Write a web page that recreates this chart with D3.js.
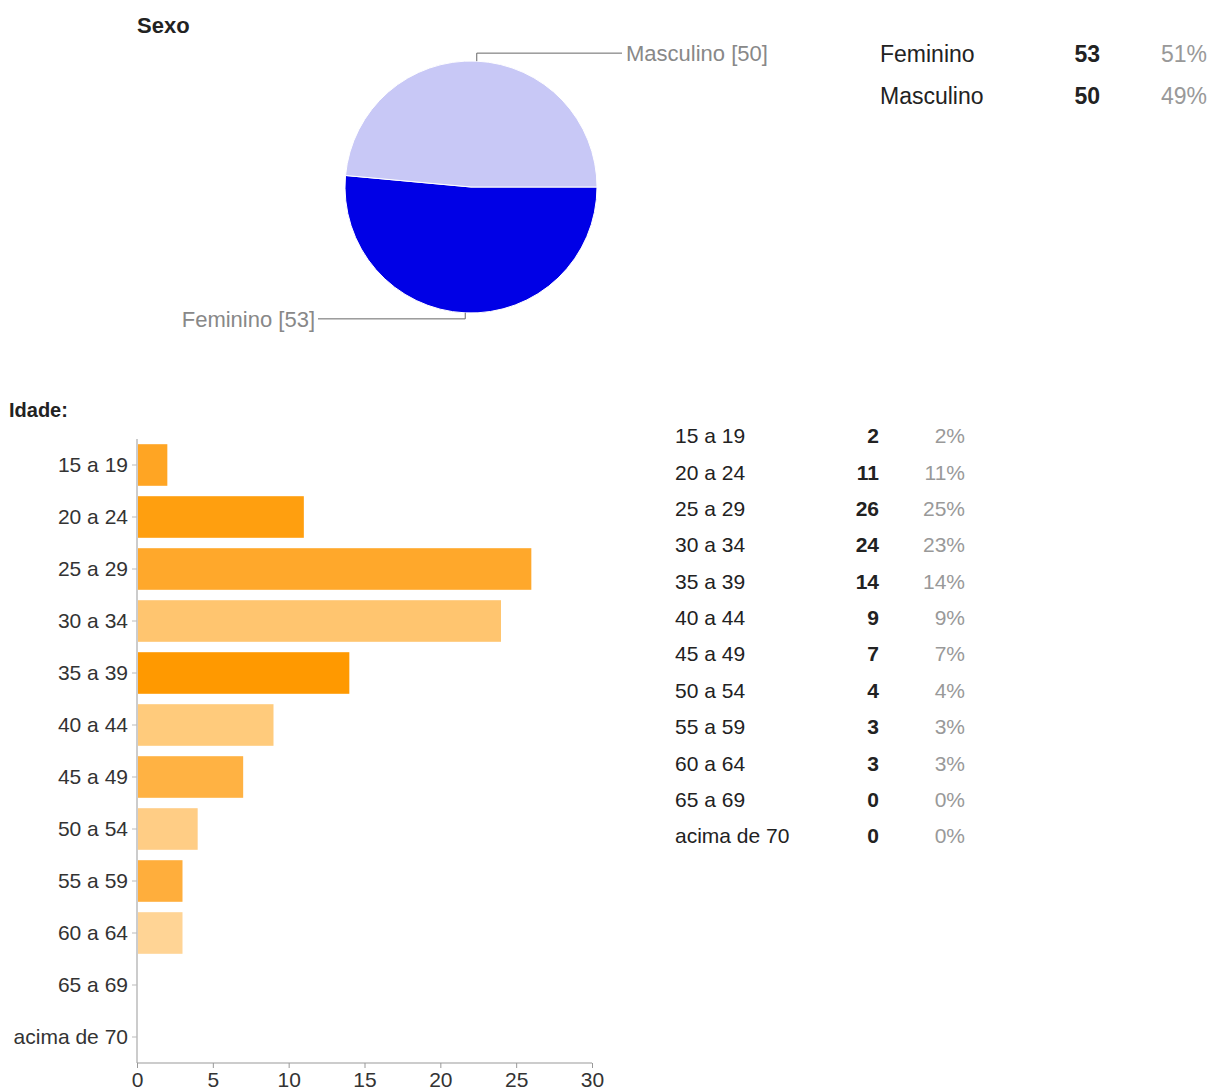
<!DOCTYPE html>
<html>
<head>
<meta charset="utf-8">
<script src="https://cdn.jsdelivr.net/npm/d3@7"></script>
<style>
  html, body { margin: 0; padding: 0; background: #fff; }
  svg { display: block; font-family: "Liberation Sans", Arial, sans-serif; }
</style>
</head>
<body>
<svg id="chart" width="1226" height="1091"></svg>
<script>
// Sexo
const sexLabels = ["Feminino", "Masculino"];
const sexCounts = [53, 50];
const sexPercents = ["51%", "49%"];
const sexColors = ["#0000e6", "#c8c8f6"];

// Idade
const ageLabels = ["15 a 19", "20 a 24", "25 a 29", "30 a 34", "35 a 39", "40 a 44",
                   "45 a 49", "50 a 54", "55 a 59", "60 a 64", "65 a 69", "acima de 70"];
const ageCounts = [2, 11, 26, 24, 14, 9, 7, 4, 3, 3, 0, 0];
const agePercents = ["2%", "11%", "25%", "23%", "14%", "9%", "7%", "4%", "3%", "3%", "0%", "0%"];
const ageColors = ["#ffa523", "#ff9f0f", "#ffa82b", "#ffc56f", "#ff9900", "#ffcb7c",
                   "#ffb243", "#ffcd85", "#ffae3c", "#ffd495", "#ffd495", "#ffd495"];
const xTicks = [0, 5, 10, 15, 20, 25, 30];

const svg = d3.select("#chart");
const FONT = "'Liberation Sans', Arial, sans-serif";

// ---------- Sexo: pie ----------
svg.append("text").attr("x", 137).attr("y", 25).attr("dy", "0.35em")
  .attr("font-size", 22).attr("font-weight", "bold").attr("fill", "#222").text("Sexo");

const cx = 471, cy = 187, r = 126;
const sexData = sexLabels.map((l, i) => ({ label: l, value: sexCounts[i], color: sexColors[i] }));
const pie = d3.pie().value(d => d.value).sort(null)
  .startAngle(Math.PI / 2).endAngle(Math.PI / 2 + 2 * Math.PI);
const arcs = pie(sexData);
const arc = d3.arc().innerRadius(0).outerRadius(r);

const pieG = svg.append("g").attr("transform", `translate(${cx},${cy})`);
pieG.selectAll("path").data(arcs).join("path")
  .attr("d", arc).attr("fill", d => d.data.color)
  .attr("stroke", "#fff").attr("stroke-width", 1);

// leader lines from slice midpoints
arcs.forEach(a => {
  const mid = (a.startAngle + a.endAngle) / 2;
  const px = r * Math.sin(mid), py = -r * Math.cos(mid);
  const up = py < 0;
  const ey = up ? py - 8 : py + 6;
  const ex = up ? 151 : -153;
  pieG.append("path")
    .attr("d", `M${px},${py}V${ey}H${ex}`)
    .attr("fill", "none").attr("stroke", "#666").attr("stroke-width", 1);
  pieG.append("text")
    .attr("x", up ? ex + 4 : ex - 3).attr("y", ey)
    .attr("dy", "0.35em").attr("text-anchor", up ? "start" : "end")
    .attr("font-size", 22).attr("fill", "#888")
    .text(`${a.data.label} [${a.data.value}]`);
});

// summary table
const sexTable = svg.append("g");
sexLabels.forEach((l, i) => {
  const y = 54 + i * 42;
  sexTable.append("text").attr("x", 880).attr("y", y).attr("dy", "0.35em")
    .attr("font-size", 23).attr("fill", "#222").text(l);
  sexTable.append("text").attr("x", 1100).attr("y", y).attr("dy", "0.35em")
    .attr("text-anchor", "end").attr("font-size", 23).attr("font-weight", "bold")
    .attr("fill", "#222").text(sexCounts[i]);
  sexTable.append("text").attr("x", 1207).attr("y", y).attr("dy", "0.35em")
    .attr("text-anchor", "end").attr("font-size", 23).attr("fill", "#999").text(sexPercents[i]);
});

// ---------- Idade: horizontal bars ----------
svg.append("text").attr("x", 9).attr("y", 410).attr("dy", "0.35em")
  .attr("font-size", 20).attr("font-weight", "bold").attr("fill", "#222").text("Idade:");

const x = d3.scaleLinear().domain([0, 30]).range([137, 592]);
const y = d3.scaleBand().domain(ageLabels).range([439, 1063])
  .paddingInner(0.2).paddingOuter(0.1);

svg.append("g").selectAll("rect").data(ageLabels).join("rect")
  .attr("x", x(0) + 1)
  .attr("y", d => y(d))
  .attr("width", (d, i) => Math.max(0, x(ageCounts[i]) - x(0) - 1))
  .attr("height", y.bandwidth())
  .attr("fill", (d, i) => ageColors[i]);

const yAxis = svg.append("g").attr("transform", `translate(${x(0)},0)`)
  .call(d3.axisLeft(y).tickSize(5).tickPadding(4));
yAxis.select(".domain").attr("d", `M0,439V1063`).attr("stroke", "#999");
yAxis.selectAll(".tick line").attr("stroke", "#bbb");
yAxis.selectAll(".tick text").attr("font-size", 21).attr("fill", "#333")
  .attr("font-family", FONT);

const xAxis = svg.append("g").attr("transform", "translate(0,1063)")
  .call(d3.axisBottom(x).tickValues(xTicks).tickSize(5).tickPadding(4));
xAxis.select(".domain").attr("d", `M${x(0)},0H${x(30)}`).attr("stroke", "#999");
xAxis.selectAll(".tick line").attr("stroke", "#999");
xAxis.selectAll(".tick text").attr("font-size", 21).attr("fill", "#333")
  .attr("font-family", FONT);

// summary table
const ageTable = svg.append("g");
ageLabels.forEach((l, i) => {
  const yy = 436 + i * 36.35;
  ageTable.append("text").attr("x", 675).attr("y", yy).attr("dy", "0.35em")
    .attr("font-size", 21).attr("fill", "#222").text(l);
  ageTable.append("text").attr("x", 879).attr("y", yy).attr("dy", "0.35em")
    .attr("text-anchor", "end").attr("font-size", 21).attr("font-weight", "bold")
    .attr("fill", "#222").text(ageCounts[i]);
  ageTable.append("text").attr("x", 965).attr("y", yy).attr("dy", "0.35em")
    .attr("text-anchor", "end").attr("font-size", 21).attr("fill", "#999").text(agePercents[i]);
});
</script>
</body>
</html>
